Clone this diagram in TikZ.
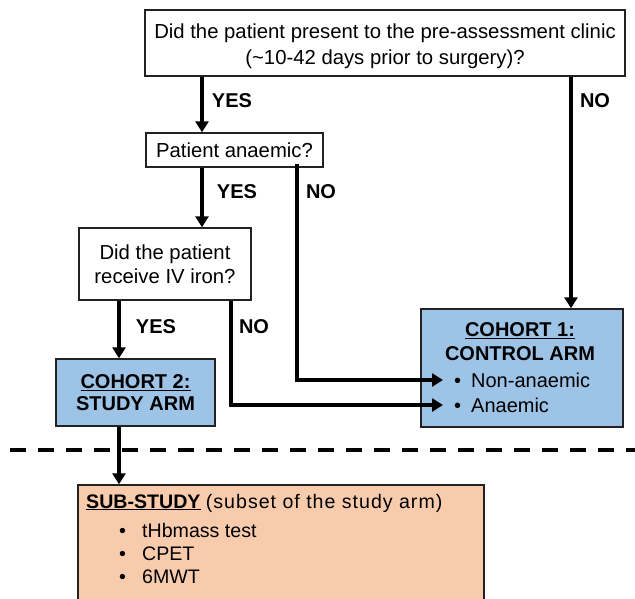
\documentclass[tikz,border=0pt]{standalone}
\usepackage{fontspec}
\setmainfont{Liberation Sans}
\usetikzlibrary{arrows.meta}
\definecolor{boxblue}{HTML}{9DC3E6}
\definecolor{peach}{HTML}{F8CBAD}
\definecolor{edge}{HTML}{222222}
\begin{document}
\begin{tikzpicture}[x=1pt,y=-1pt,
  box/.style={draw=edge,line width=1.4pt,inner sep=0pt,align=center,
    font=\fontsize{20.3}{24}\selectfont},
  txt/.style={inner sep=0pt,font=\fontsize{20}{24}\selectfont},
  lbl/.style={inner sep=0pt,font=\fontsize{20}{22}\selectfont\bfseries},
  arr/.style={line width=3.2pt,-{Triangle[length=11pt,width=13pt]}},
  ln/.style={line width=3.2pt}]
\useasboundingbox (0,0) rectangle (635,598);
% boxes
\node[box,minimum width=480pt,minimum height=66pt,
  label={[inner sep=0pt,align=center,yshift=-3pt,font=\fontsize{20.3}{26}\selectfont]center:Did the patient present to the pre-assessment clinic\\(\textasciitilde10-42 days prior to surgery)?}] (q1) at (385,43) {};
\node[box,minimum width=177pt,minimum height=34pt] (q2) at (234.5,150) {Patient anaemic?};
\node[box,minimum width=172pt,minimum height=72pt] (q3) at (165,264) {Did the patient\\receive IV iron?};
\node[box,fill=boxblue,minimum width=159pt,minimum height=67pt,
  font=\fontsize{20}{22}\selectfont\bfseries] (c2) at (135.5,392.5)
  {\underline{COHORT 2:}\\STUDY ARM};
\node[box,fill=boxblue,minimum width=202pt,minimum height=118pt] (c1) at (522,368) {};
\node[lbl,align=center,font=\fontsize{20}{24}\selectfont\bfseries] (c1t) at (520,342) {\underline{COHORT 1:}\\CONTROL ARM};
\node[txt,anchor=west] (na) at (454,380) {\makebox[17pt][l]{•}Non-anaemic};
\node[txt,anchor=west] (an) at (454,405) {\makebox[17pt][l]{•}Anaemic};
\node[draw=edge,line width=1.4pt,fill=peach,minimum width=406pt,minimum height=135pt,inner sep=0pt] (sub) at (281,552.5) {};
\node[txt,anchor=west,font=\fontsize{19.6}{22}\selectfont] (sh) at (86,503) {\textbf{\underline{SUB-STUDY}} {\addfontfeature{LetterSpace=5}(subset of the study arm)}};
\node[txt,anchor=west,font=\fontsize{19.6}{22}\selectfont] (b1) at (119,530) {\makebox[23pt][l]{•}tHbmass test};
\node[txt,anchor=west,font=\fontsize{19.6}{22}\selectfont] (b2) at (119,554) {\makebox[23pt][l]{•}CPET};
\node[txt,anchor=west,font=\fontsize{19.6}{22}\selectfont] (b3) at (119,577) {\makebox[23pt][l]{•}6MWT};
% labels
\node[lbl] (y1) at (232,101) {YES};
\node[lbl] (n1) at (595,101) {NO};
\node[lbl] (y2) at (237,192) {YES};
\node[lbl] (n2) at (321,192) {NO};
\node[lbl] (y3) at (156,327) {YES};
\node[lbl] (n3) at (254,327) {NO};
% helper x positions
\coordinate (a1) at (202,0);
\coordinate (a2) at (571,0);
\coordinate (a3) at (297,0);
\coordinate (a4) at (119,0);
\coordinate (a5) at (231,0);
\coordinate (na0) at (443,380);
\coordinate (an0) at (443,405);
% connectors
\draw[arr] (q1.south -| a1) -- (q2.north -| a1);
\draw[arr] (q1.south -| a2) -- (c1.north -| a2);
\draw[arr] (q2.south -| a1) -- (q3.north -| a1);
\draw[arr] ([yshift=4pt]q2.south -| a3) |- (na0);
\draw[arr] (q3.south -| a4) -- (c2.north -| a4);
\draw[arr] (q3.south -| a5) |- (an0);
\draw[arr] (c2.south -| a4) -- (sub.north -| a4);
% dashed separator
\coordinate (d1) at (10,450);
\coordinate (d2) at (640,450);
\draw[line width=4pt,dash pattern=on 16pt off 12pt] (d1) -- (d2);
\end{tikzpicture}
\end{document}
